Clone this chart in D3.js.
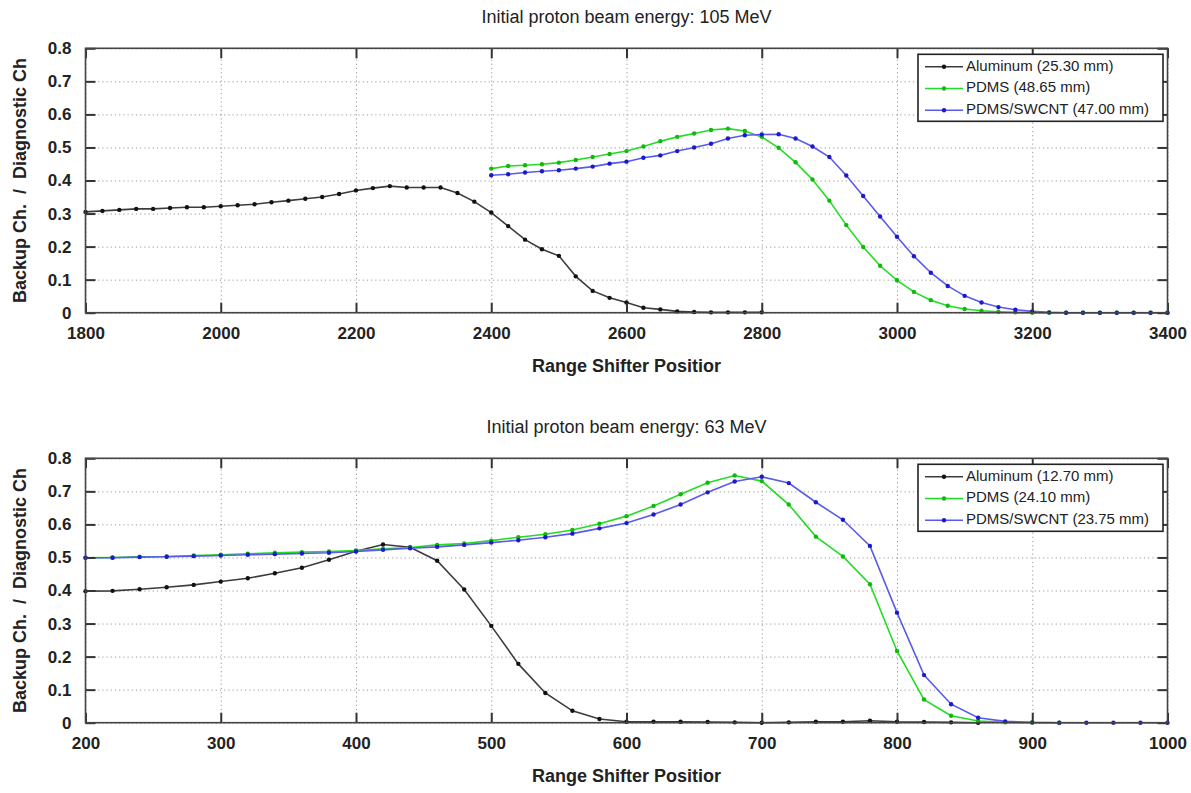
<!DOCTYPE html>
<html>
<head>
<meta charset="utf-8">
<script src="https://cdn.jsdelivr.net/npm/d3@7"></script>
<style>
  body { margin: 0; background: #fff; }
  svg text { font-family: "Liberation Sans", Arial, sans-serif; }
</style>
</head>
<body>
<script>
// ---- data: top panel (105 MeV) ----
var topAlX = [1800,1825,1850,1875,1900,1925,1950,1975,2000,2025,2050,2075,2100,2125,2150,2175,2200,2225,2250,2275,2300,2325,2350,2375,2400,2425,2450,2475,2500,2525,2550,2575,2600,2625,2650,2675,2700,2725,2750,2775,2800];
var topAlY = [0.305,0.308,0.311,0.314,0.314,0.317,0.319,0.319,0.322,0.325,0.328,0.334,0.339,0.345,0.350,0.359,0.370,0.377,0.383,0.379,0.379,0.379,0.362,0.336,0.303,0.262,0.221,0.192,0.172,0.110,0.066,0.045,0.031,0.015,0.010,0.004,0.002,0.001,0.001,0.001,0.001];
var topPdmsX = [2400,2425,2450,2475,2500,2525,2550,2575,2600,2625,2650,2675,2700,2725,2750,2775,2800,2825,2850,2875,2900,2925,2950,2975,3000,3025,3050,3075,3100,3125,3150,3175,3200,3225,3250,3275,3300,3325,3350,3375,3400];
var topPdmsY = [0.436,0.444,0.446,0.449,0.454,0.462,0.471,0.480,0.489,0.503,0.519,0.532,0.542,0.553,0.557,0.550,0.532,0.499,0.455,0.403,0.339,0.265,0.199,0.142,0.098,0.063,0.038,0.021,0.011,0.006,0.003,0.001,0,0,0,0,0,0,0,0,0];
var topSwX = topPdmsX;
var topSwY = [0.416,0.419,0.424,0.428,0.431,0.436,0.442,0.451,0.457,0.469,0.476,0.489,0.500,0.511,0.527,0.537,0.539,0.540,0.527,0.503,0.471,0.415,0.353,0.291,0.230,0.171,0.121,0.081,0.051,0.031,0.017,0.009,0.004,0.001,0,0,0,0,0,0,0];
var topXTicks = [1800,2000,2200,2400,2600,2800,3000,3200,3400];
var topLegend = ["Aluminum (25.30 mm)", "PDMS (48.65 mm)", "PDMS/SWCNT (47.00 mm)"];

// ---- data: bottom panel (63 MeV) ----
var botAlX = [200,220,240,260,280,300,320,340,360,380,400,420,440,460,480,500,520,540,560,580,600,620,640,660,680,700,720,740,760,780,800,820,840,860];
var botAlY = [0.398,0.399,0.404,0.410,0.417,0.427,0.437,0.452,0.469,0.493,0.519,0.539,0.531,0.490,0.403,0.293,0.178,0.090,0.036,0.011,0.003,0.003,0.003,0.002,0.001,0,0.001,0.003,0.003,0.006,0.003,0.002,0.001,0];
var botPdmsX = [200,220,240,260,280,300,320,340,360,380,400,420,440,460,480,500,520,540,560,580,600,620,640,660,680,700,720,740,760,780,800,820,840,860,880,900,920];
var botPdmsY = [0.499,0.500,0.502,0.503,0.506,0.508,0.511,0.514,0.516,0.518,0.521,0.526,0.530,0.538,0.542,0.551,0.561,0.570,0.583,0.602,0.625,0.656,0.691,0.726,0.748,0.731,0.660,0.563,0.503,0.419,0.217,0.070,0.021,0.005,0.001,0,0];
var botSwX = [200,220,240,260,280,300,320,340,360,380,400,420,440,460,480,500,520,540,560,580,600,620,640,660,680,700,720,740,760,780,800,820,840,860,880,900,920,940,960,980,1000];
var botSwY = [0.499,0.499,0.501,0.502,0.504,0.506,0.508,0.510,0.512,0.514,0.518,0.523,0.528,0.532,0.538,0.545,0.552,0.561,0.572,0.588,0.604,0.630,0.660,0.697,0.730,0.744,0.725,0.667,0.614,0.535,0.333,0.144,0.056,0.015,0.004,0.001,0,0,0,0,0];
var botXTicks = [200,300,400,500,600,700,800,900,1000];
var botLegend = ["Aluminum (12.70 mm)", "PDMS (24.10 mm)", "PDMS/SWCNT (23.75 mm)"];

var yTicks = [0,0.1,0.2,0.3,0.4,0.5,0.6,0.7,0.8];
var lineColors = ["#3c3c3c", "#22dd22", "#5a5aee"];
var dotColors = ["#111111", "#10b810", "#1a1acc"];

var svg = d3.select("body").append("svg").attr("width", 1191).attr("height", 793);

function zip(xs, ys) {
  return xs.map(function(x, i){ return [x, ys[i]]; });
}

function drawPanel(p) {
  var left = 85.5, right = 1167.5, top = p.top, bottom = p.top + 264.4;
  var x = d3.scaleLinear().domain(p.xDomain).range([left, right]);
  var y = d3.scaleLinear().domain([0, 0.8]).range([bottom, top]);
  var g = svg.append("g");

  // dotted grid
  g.append("g").attr("transform", "translate(0," + bottom + ")")
    .call(d3.axisBottom(x).tickValues(p.xTicks).tickSize(-(bottom - top)).tickFormat(""))
    .call(function(a){ a.select(".domain").remove(); })
    .selectAll("line").attr("stroke", "#999").attr("stroke-dasharray", "1.2,3");
  g.append("g").attr("transform", "translate(" + left + ",0)")
    .call(d3.axisLeft(y).tickValues(yTicks).tickSize(-(right - left)).tickFormat(""))
    .call(function(a){ a.select(".domain").remove(); })
    .selectAll("line").attr("stroke", "#999").attr("stroke-dasharray", "1.2,3");

  // series
  var line = d3.line().x(function(d){ return x(d[0]); }).y(function(d){ return y(d[1]); });
  p.series.forEach(function(s, i) {
    var pts = zip(s[0], s[1]);
    g.append("path").datum(pts)
      .attr("fill", "none")
      .attr("stroke", lineColors[i])
      .attr("stroke-width", 1.6)
      .attr("d", line);
    g.selectAll("circle.s" + i).data(pts)
      .enter().append("circle")
      .attr("class", "s" + i)
      .attr("cx", function(d){ return x(d[0]); })
      .attr("cy", function(d){ return y(d[1]); })
      .attr("r", 2.2)
      .attr("fill", dotColors[i]);
  });

  // frame + inward ticks
  var axes = g.append("g").attr("class", "axes");
  var b = axes.append("g").attr("transform", "translate(0," + bottom + ")")
    .call(d3.axisBottom(x).tickValues(p.xTicks).tickSizeInner(-10).tickSizeOuter(0).tickPadding(14).tickFormat(d3.format("d")));
  axes.append("g").attr("transform", "translate(0," + top + ")")
    .call(d3.axisTop(x).tickValues(p.xTicks).tickSizeInner(-10).tickSizeOuter(0).tickFormat(""));
  var l = axes.append("g").attr("transform", "translate(" + left + ",0)")
    .call(d3.axisLeft(y).tickValues(yTicks).tickSizeInner(-10).tickSizeOuter(0).tickPadding(14).tickFormat(d3.format("~g")));
  axes.append("g").attr("transform", "translate(" + right + ",0)")
    .call(d3.axisRight(y).tickValues(yTicks).tickSizeInner(-10).tickSizeOuter(0).tickFormat(""));
  axes.selectAll(".domain").remove();
  axes.selectAll(".tick line").attr("stroke", "#333").attr("stroke-width", 2);
  axes.selectAll("text").attr("font-size", 17).attr("font-weight", "bold").attr("fill", "#222");
  axes.append("rect")
    .attr("x", left).attr("y", top)
    .attr("width", right - left).attr("height", bottom - top)
    .attr("fill", "none").attr("stroke", "#444").attr("stroke-width", 1.6);

  // titles
  svg.append("text")
    .attr("x", (left + right) / 2).attr("y", top - 30)
    .attr("text-anchor", "middle").attr("dominant-baseline", "middle")
    .attr("font-size", 18).attr("fill", "#222")
    .text(p.title);
  svg.append("text")
    .attr("x", (left + right) / 2).attr("y", bottom + 55)
    .attr("text-anchor", "middle").attr("dominant-baseline", "middle")
    .attr("font-size", 18).attr("font-weight", "bold").attr("fill", "#222")
    .text("Range Shifter Positior");
  svg.append("text")
    .attr("transform", "translate(21," + ((top + bottom) / 2) + ") rotate(-90)")
    .attr("text-anchor", "middle").attr("dominant-baseline", "middle")
    .attr("font-size", 18).attr("font-weight", "bold").attr("fill", "#222")
    .attr("xml:space", "preserve")
    .text("Backup Ch.  /  Diagnostic Ch");

  // legend
  var lg = g.append("g").attr("transform", "translate(918," + (top + 6) + ")");
  lg.append("rect").attr("width", 245).attr("height", 67)
    .attr("fill", "#fff").attr("stroke", "#222").attr("stroke-width", 1.6);
  p.legend.forEach(function(name, i) {
    var ly = 12.5 + i * 21.7;
    lg.append("line").attr("x1", 7).attr("x2", 45).attr("y1", ly).attr("y2", ly)
      .attr("stroke", lineColors[i]).attr("stroke-width", 1.6);
    lg.append("circle").attr("cx", 26).attr("cy", ly).attr("r", 2.2).attr("fill", dotColors[i]);
    lg.append("text").attr("x", 48).attr("y", ly)
      .attr("dominant-baseline", "middle")
      .attr("font-size", 15).attr("fill", "#222")
      .text(name);
  });
}

drawPanel({
  top: 48.3,
  xDomain: [1800, 3400],
  xTicks: topXTicks,
  title: "Initial proton beam energy: 105 MeV",
  legend: topLegend,
  series: [[topAlX, topAlY], [topPdmsX, topPdmsY], [topSwX, topSwY]]
});

drawPanel({
  top: 458.3,
  xDomain: [200, 1000],
  xTicks: botXTicks,
  title: "Initial proton beam energy: 63 MeV",
  legend: botLegend,
  series: [[botAlX, botAlY], [botPdmsX, botPdmsY], [botSwX, botSwY]]
});
</script>
</body>
</html>
